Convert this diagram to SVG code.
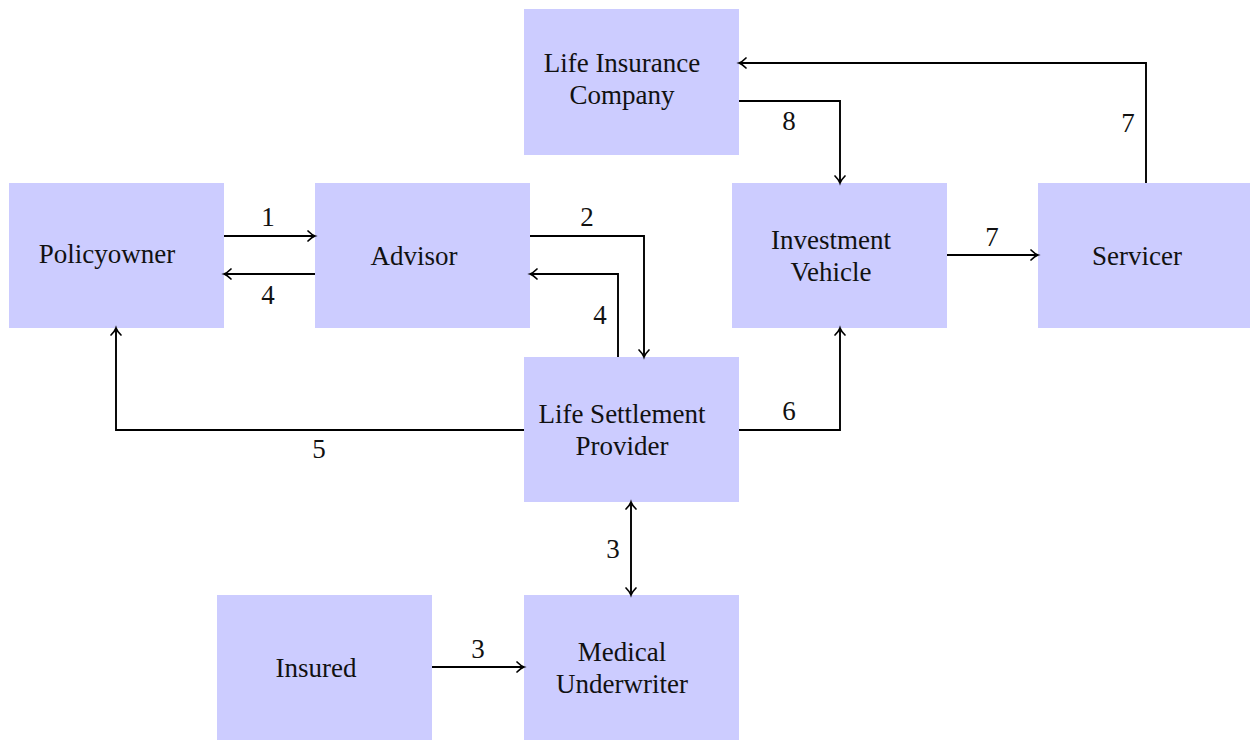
<svg xmlns="http://www.w3.org/2000/svg" width="1250" height="740" viewBox="0 0 1250 740">
<defs>
<marker id="ah" markerUnits="userSpaceOnUse" markerWidth="14" markerHeight="14" viewBox="-10 -7 14 14" refX="0" refY="0" orient="auto-start-reverse">
<path d="M-7,-5 Q-3,-1 0,0 Q-3,1 -7,5" fill="none" stroke="#000" stroke-width="1.7" stroke-linecap="round"/>
</marker>
</defs>
<style>
.box{fill:#ccccff}
.t{font-family:"Liberation Serif","DejaVu Serif",serif;font-size:27px;fill:#111;text-anchor:middle}
.c{fill:none;stroke:#000;stroke-width:1.9}
.a{marker-end:url(#ah)}
.b{marker-start:url(#ah);marker-end:url(#ah)}
</style>
<rect width="1250" height="740" fill="#fff"/>
<g id="lic"><rect class="box" x="524" y="9" width="215" height="146"/><text class="t" x="622" y="72">Life Insurance</text><text class="t" x="622" y="104">Company</text></g>
<g id="policyowner"><rect class="box" x="9" y="183" width="215" height="145"/><text class="t" x="107" y="263">Policyowner</text></g>
<g id="advisor"><rect class="box" x="315" y="183" width="215" height="145"/><text class="t" x="414" y="265">Advisor</text></g>
<g id="iv"><rect class="box" x="732" y="183" width="215" height="145"/><text class="t" x="831" y="249">Investment</text><text class="t" x="831" y="281">Vehicle</text></g>
<g id="servicer"><rect class="box" x="1038" y="183" width="212" height="145"/><text class="t" x="1137" y="265">Servicer</text></g>
<g id="lsp"><rect class="box" x="524" y="357" width="215" height="145"/><text class="t" x="622" y="423">Life Settlement</text><text class="t" x="622" y="455">Provider</text></g>
<g id="insured"><rect class="box" x="217" y="595" width="215" height="145"/><text class="t" x="316" y="677">Insured</text></g>
<g id="mu"><rect class="box" x="524" y="595" width="215" height="145"/><text class="t" x="622" y="661">Medical</text><text class="t" x="622" y="693">Underwriter</text></g>
<g id="connectors">
<path class="c a" d="M224,236 H315"/>
<path class="c a" d="M315,274 H224"/>
<path class="c a" d="M530,236 H644 V357"/>
<path class="c a" d="M618,357 V274 H530"/>
<path class="c a" d="M524,430 H116 V328"/>
<path class="c a" d="M739,430 H840 V328"/>
<path class="c b" d="M631,502 V595"/>
<path class="c a" d="M432,667 H524"/>
<path class="c a" d="M947,255 H1038"/>
<path class="c a" d="M1146,183 V63 H739"/>
<path class="c a" d="M739,101 H840 V183"/>
<text class="t" x="268" y="226">1</text>
<text class="t" x="268" y="304">4</text>
<text class="t" x="587" y="226">2</text>
<text class="t" x="600" y="324">4</text>
<text class="t" x="319" y="458">5</text>
<text class="t" x="789" y="420">6</text>
<text class="t" x="613" y="558">3</text>
<text class="t" x="478" y="658">3</text>
<text class="t" x="992" y="246">7</text>
<text class="t" x="1128" y="132">7</text>
<text class="t" x="789" y="130">8</text>
</g>
</svg>
